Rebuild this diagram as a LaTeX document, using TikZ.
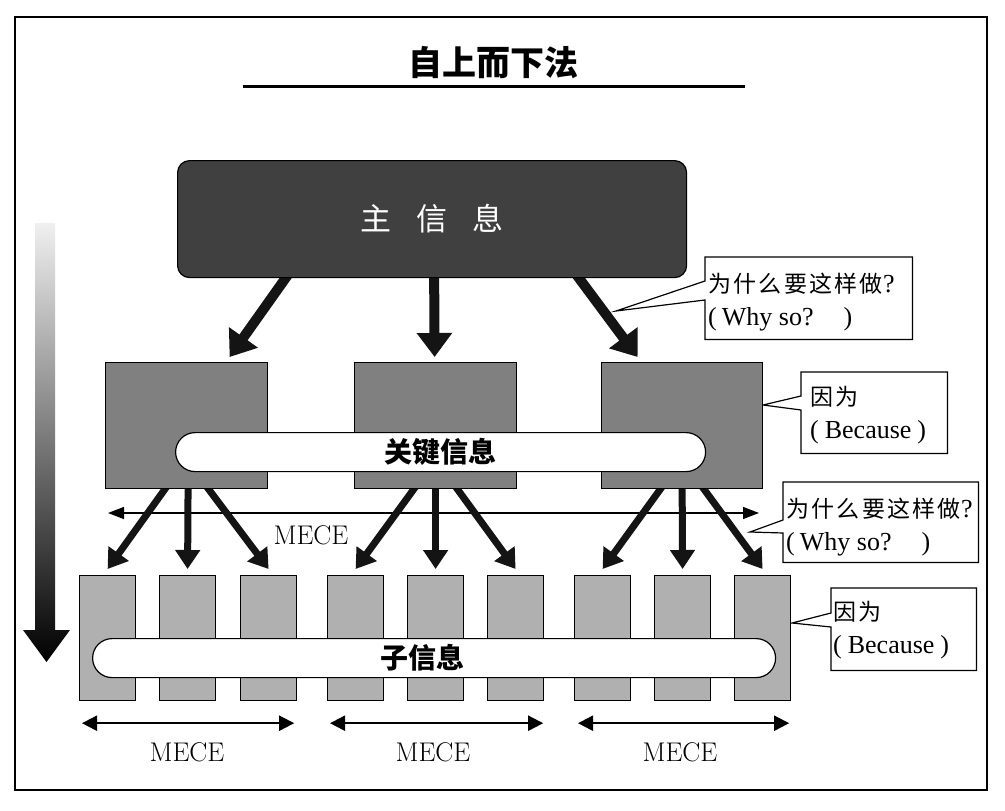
\documentclass[tikz,border=0pt]{standalone}
\usepackage{fontspec}
\newfontfamily\cjk{Noto Sans CJK SC}
\newfontfamily\cjkc[LetterSpace=10]{Noto Sans CJK SC}
\newfontfamily\lserif{Liberation Serif}
\newcommand\zhtext[1]{{\fontsize{23}{33}\selectfont\cjkc #1}}
\usetikzlibrary{arrows.meta}
\pgfdeclarelayer{back}
\pgfdeclarelayer{bg}
\pgfsetlayers{back,bg,main}
\definecolor{topgray}{HTML}{404040}
\definecolor{midgray}{HTML}{808080}
\definecolor{lowgray}{HTML}{B0B0B0}
\begin{document}
\begin{tikzpicture}[x=1pt,y=-1pt,
  box/.style={draw=black,line width=1.2pt,inner sep=0pt,anchor=north west},
  topbox/.style={box,fill=topgray,rounded corners=12pt,minimum width=509pt,minimum height=117pt,text=white,font=\fontsize{31}{31}\selectfont\cjk},
  midbox/.style={box,fill=midgray,minimum width=162pt,minimum height=126pt},
  lowbox/.style={box,fill=lowgray,minimum width=56pt,minimum height=125pt},
  pill/.style={box,fill=white,rounded corners=19.5pt,minimum height=39pt,font=\fontsize{28}{28}\selectfont\cjk\bfseries},
  pilltext/.style={inner sep=0pt,font=\fontsize{28}{28}\selectfont\cjk\bfseries},
  bigarrow/.style={draw=black!92,line width=10pt,-{Triangle[width=34pt,length=24pt]}},
  midarrow/.style={draw=black!92,line width=7pt,-{Triangle[width=24pt,length=19pt]}},
  mecearrow/.style={draw=black,line width=1.5pt,{Triangle[width=12pt,length=16pt]}-{Triangle[width=12pt,length=16pt]}},
  lowmece/.style={draw=black,line width=2pt,{Triangle[width=15pt,length=15pt]}-{Triangle[width=15pt,length=15pt]}},
  mecetext/.style={font=\fontsize{27}{27}\selectfont,inner sep=0pt},
  cbox/.style={inner sep=0pt,anchor=north west},
  cline/.style={draw=black,fill=white,line width=1.2pt,line join=miter},
  ctext/.style={anchor=west,inner sep=0pt,align=left,font=\fontsize{26}{33}\selectfont\lserif}
]
\useasboundingbox (0,0) rectangle (1005,811);
\begin{pgfonlayer}{back}
\fill[white] (0,0) rectangle (1005,811);
\end{pgfonlayer}
% frame
\draw[line width=1.5pt] (15,17) rectangle (987,790);
% title
\node[inner sep=0pt,font=\fontsize{34}{34}\selectfont\cjk\bfseries] (title) at (493,63) {自上而下法};
\draw[line width=3pt] (243,86) -- (745,86);
% gradient arrow
\shade[top color=black!6,bottom color=black] (35,223) -- (55,223) -- (55,630) -- (70,630) -- (46.5,662) -- (23,630) -- (35,630) -- cycle;
% main box
\node[topbox] (main) at (177,160) {主\hspace{25pt}信\hspace{25pt}息};
% middle boxes
\node[midbox] (m1) at (105,362) {};
\node[midbox] (m2) at (354,362) {};
\node[midbox,minimum width=161pt] (m3) at (601,362) {};
\node[pill,minimum width=530pt] (p1) at (175,432) {关键信息};
% bottom boxes
\foreach \i/\x in {1/79,2/159,3/240,4/327,5/407,6/487,7/574,8/654,9/734}{
  \node[lowbox] (b\i) at (\x,575) {};
}
\node[pill,minimum width=683pt] (p2) at (92,638) {};
\node[pilltext] (p2t) at (422,658) {子信息};
% MECE middle
\coordinate (meceL) at (108,513);
\coordinate (meceR) at (759,513);
\node[mecetext] (mece0) at (311,535) {MECE};
% callout boxes
\node[cbox,minimum width=207pt,minimum height=82pt] (c1) at (705,257) {};
\node[cbox,minimum width=146pt,minimum height=81pt] (c2) at (801,372) {};
\node[cbox,minimum width=195pt,minimum height=80pt] (c3) at (783,482) {};
\node[cbox,minimum width=145pt,minimum height=82pt] (c4) at (831,588) {};
\coordinate (c1a) at (705,281); \coordinate (c1b) at (705,300); \coordinate (c1t) at (616,311);
\coordinate (c2a) at (801,396); \coordinate (c2b) at (801,410); \coordinate (c2t) at (763,405);
\coordinate (c3a) at (783,520); \coordinate (c3b) at (783,533); \coordinate (c3t) at (750,532);
\coordinate (c4a) at (831,613); \coordinate (c4b) at (831,627); \coordinate (c4t) at (792,623);
\node[ctext] (t1) at ([xshift=3pt,yshift=-4pt]c1.west) {\zhtext{为什么要这样做}?\\(\hspace{5pt}Why so?\hspace{30pt})};
\node[ctext] (t2) at ([xshift=9pt,yshift=-2pt]c2.west) {\zhtext{因为}\\(\hspace{6pt}Because\hspace{6pt})};
\node[ctext] (t3) at ([xshift=3pt,yshift=-5pt]c3.west) {\zhtext{为什么要这样做}?\\(\hspace{5pt}Why so?\hspace{30pt})};
\node[ctext] (t4) at ([xshift=2pt,yshift=-1pt]c4.west) {\zhtext{因为}\\(\hspace{6pt}Because\hspace{6pt})};
% bottom MECE
\draw[lowmece] ([xshift=3pt,yshift=-22pt]b1.south west) -- ([xshift=-3pt,yshift=-22pt]b3.south east);
\draw[lowmece] ([xshift=3pt,yshift=-22pt]b4.south west) -- ([xshift=-1pt,yshift=-22pt]b6.south east);
\draw[lowmece] ([xshift=4pt,yshift=-22pt]b7.south west) -- ([xshift=-2pt,yshift=-22pt]b9.south east);
\node[mecetext] (mece1) at (187,752) {MECE};
\node[mecetext] (mece2) at (433,752) {MECE};
\node[mecetext] (mece3) at (680,752) {MECE};
\begin{pgfonlayer}{bg}
\draw[mecearrow] (meceL) -- (meceR);
\draw[bigarrow] ([xshift=-139.5pt,yshift=10pt]main.south) -- ([xshift=43pt,yshift=5pt]m1.north);
\draw[bigarrow] ([xshift=2pt,yshift=10pt]main.south) -- ([xshift=-1pt,yshift=5pt]m2.north);
\draw[bigarrow] ([xshift=139.5pt,yshift=10pt]main.south) -- ([xshift=-44.5pt,yshift=5pt]m3.north);
\draw[midarrow] ([xshift=-16pt,yshift=8pt]m1.south) -- ([yshift=6pt]b1.north);
\draw[midarrow] ([xshift=1.5pt,yshift=8pt]m1.south) -- ([yshift=6pt]b2.north);
\draw[midarrow] ([xshift=16pt,yshift=8pt]m1.south) -- ([yshift=6pt]b3.north);
\draw[midarrow] ([xshift=-16pt,yshift=8pt]m2.south) -- ([yshift=6pt]b4.north);
\draw[midarrow] ([yshift=8pt]m2.south) -- ([yshift=6pt]b5.north);
\draw[midarrow] ([xshift=16pt,yshift=8pt]m2.south) -- ([yshift=6pt]b6.north);
\draw[midarrow] ([xshift=-16pt,yshift=8pt]m3.south) -- ([yshift=6pt]b7.north);
\draw[midarrow] ([yshift=8pt]m3.south) -- ([yshift=6pt]b8.north);
\draw[midarrow] ([xshift=16pt,yshift=8pt]m3.south) -- ([yshift=6pt]b9.north);
\filldraw[cline] (c1.north west) -- (c1.north east) -- (c1.south east) -- (c1.south west) -- (c1b) -- (c1t) -- (c1a) -- cycle;
\filldraw[cline] (c2.north west) -- (c2.north east) -- (c2.south east) -- (c2.south west) -- (c2b) -- (c2t) -- (c2a) -- cycle;
\filldraw[cline] (c3.north west) -- (c3.north east) -- (c3.south east) -- (c3.south west) -- (c3b) -- (c3t) -- (c3a) -- cycle;
\filldraw[cline] (c4.north west) -- (c4.north east) -- (c4.south east) -- (c4.south west) -- (c4b) -- (c4t) -- (c4a) -- cycle;
\end{pgfonlayer}
\end{tikzpicture}
\end{document}
